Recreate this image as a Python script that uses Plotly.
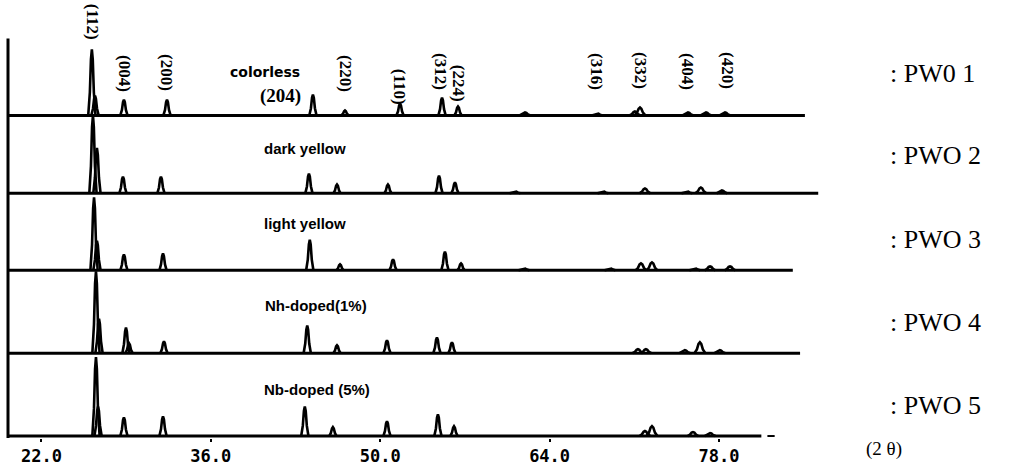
import plotly.graph_objects as go

# ---- data -------------------------------------------------------------
tick_vals = [22, 36, 50, 64, 78]
tick_text = ["22.0", "36.0", "50.0", "64.0", "78.0"]

sample_names = [": PW0 1", ": PWO 2", ": PWO 3", ": PWO 4", ": PWO 5"]
sample_notes = ["colorless", "dark yellow", "light yellow", "Nh-doped(1%)", "Nb-doped (5%)"]

# peak positions (2-theta, deg) and relative intensities for each crystal
pwo1_pos = [26.17, 26.43, 28.82, 32.38, 44.44, 47.09, 51.64, 55.11, 56.43, 61.97, 67.92, 71.05, 71.47, 75.44, 76.93, 78.50]
pwo1_int = [67, 20, 16, 16, 21, 5, 12, 18, 9, 3, 2, 4, 8, 3, 3, 3]

pwo2_pos = [26.26, 26.59, 28.74, 31.88, 44.11, 46.43, 50.64, 54.86, 56.18, 61.14, 68.41, 71.88, 75.35, 76.50, 78.24]
pwo2_int = [79, 46, 17, 17, 20, 9, 9, 18, 11, 2, 2, 5, 2, 6, 3]

pwo3_pos = [26.35, 26.59, 28.82, 32.05, 44.18, 46.68, 51.06, 55.35, 56.68, 61.88, 68.99, 71.55, 72.46, 76.00, 77.26, 78.91]
pwo3_int = [74, 30, 16, 17, 31, 6, 11, 19, 7, 2, 2, 7, 8, 2, 4, 4]

pwo4_pos = [26.51, 26.76, 28.99, 29.24, 32.13, 43.97, 46.43, 50.56, 54.69, 55.93, 71.30, 71.96, 75.18, 76.42, 78.07]
pwo4_int = [83, 35, 26, 10, 12, 28, 8, 13, 16, 11, 4, 4, 3, 11, 3]

pwo5_pos = [26.51, 26.68, 28.82, 32.05, 43.77, 46.09, 50.56, 54.77, 56.10, 71.88, 72.46, 75.85, 77.26]
pwo5_int = [80, 30, 19, 20, 30, 9, 15, 22, 10, 5, 10, 4, 3]

scan_end = [85.1, 86.2, 84.1, 84.7, 81.5]

hkl_labels = ["(112)", "(004)", "(200)", "(220)", "(110)", "(312)", "(224)", "(316)", "(332)", "(404)", "(420)"]
hkl_pos = [26.17, 28.82, 32.38, 47.09, 51.56, 55.02, 56.43, 67.92, 71.55, 75.44, 78.74]

# ---- layout helpers ---------------------------------------------------
W, H = 1021, 466
BOTTOM = 22
PLOT_H = H - BOTTOM
PX_PER_DEG = 12.1
PX_AT_50 = 380.2
X_MIN = 50 - PX_AT_50 / PX_PER_DEG
X_MAX = 50 + (W - PX_AT_50) / PX_PER_DEG


def deg_at(px):
    return 50 + (px - PX_AT_50) / PX_PER_DEG


def y_at(py):
    return PLOT_H - py


def paper_x(px):
    return px / W


def paper_y(py):
    return (PLOT_H - py) / PLOT_H


baseline_px = [117, 196, 274, 358, 442]
offsets = [y_at(p) for p in baseline_px]
x_start = deg_at(8)

REL_X = [-1, -0.55, -0.25, 0, 0.25, 0.55, 1]
REL_Y = [0, 0.35, 0.85, 1, 0.85, 0.35, 0]


def peak_path(positions, heights, base):
    xs, ys = [], []
    for p, h in zip(positions, heights):
        w = 0.30 if p < 60 else 0.45
        xs += [p + r * w for r in REL_X] + [None]
        ys += [base + r * h for r in REL_Y] + [None]
    return xs, ys


series = [(pwo1_pos, pwo1_int), (pwo2_pos, pwo2_int), (pwo3_pos, pwo3_int),
          (pwo4_pos, pwo4_int), (pwo5_pos, pwo5_int)]

fig = go.Figure()

for i, ((pos, inten), base, end) in enumerate(zip(series, offsets, scan_end)):
    fig.add_trace(go.Scatter(x=[x_start, end], y=[base, base], mode="lines",
                             line=dict(color="black", width=3), hoverinfo="skip",
                             showlegend=False))
    xs, ys = peak_path(pos, inten, base)
    fig.add_trace(go.Scatter(x=xs, y=ys, mode="lines",
                             line=dict(color="black", width=2.6), hoverinfo="skip",
                             showlegend=False, name=sample_names[i]))

# trailing dash after the last scan
fig.add_trace(go.Scatter(x=[82.0, 82.6], y=[offsets[4], offsets[4]], mode="lines",
                         line=dict(color="black", width=2), hoverinfo="skip",
                         showlegend=False))

# left intensity axis
fig.add_shape(type="line", x0=x_start, x1=x_start, y0=y_at(445), y1=y_at(39),
              line=dict(color="black", width=3))

annotations = []
hkl_center_px = [22, 75, 73, 75, 88, 73, 84, 72, 72, 72, 72]
for lab, p, cy in zip(hkl_labels, hkl_pos, hkl_center_px):
    annotations.append(dict(x=p, y=y_at(cy), text=f"<b>{lab}</b>", textangle=90, showarrow=False,
                            font=dict(family="Liberation Serif", size=17, color="black"),
                            xanchor="center", yanchor="middle"))

annotations.append(dict(x=deg_at(280), y=y_at(97), text="<b>(204)</b>", showarrow=False,
                        font=dict(family="Liberation Serif", size=19, color="black"),
                        xanchor="center", yanchor="middle"))

note_y_px = [73, 151, 227, 310, 395]
note_x_px = [228, 262, 262, 263, 262]
for i, (note, nx, ny) in enumerate(zip(sample_notes, note_x_px, note_y_px)):
    fam = "DejaVu Sans" if i == 0 else "Liberation Sans"
    annotations.append(dict(x=deg_at(nx), y=y_at(ny), text=f"<b>{note}</b>", showarrow=False,
                            font=dict(family=fam, size=14 if i == 0 else 15, color="black"),
                            xanchor="left", yanchor="middle"))

name_y_px = [75, 158, 243, 327, 411]
for name, ny in zip(sample_names, name_y_px):
    annotations.append(dict(x=paper_x(888), y=paper_y(ny), xref="paper", yref="paper",
                            text=name, showarrow=False,
                            font=dict(family="Liberation Serif", size=26, color="black"),
                            xanchor="left", yanchor="middle"))

annotations.append(dict(x=paper_x(884), y=paper_y(455), xref="paper", yref="paper",
                        text="(2 θ)", showarrow=False,
                        font=dict(family="Liberation Serif", size=19, color="black"),
                        xanchor="center", yanchor="middle"))

fig.update_layout(
    width=W, height=H,
    margin=dict(l=0, r=0, t=0, b=BOTTOM),
    paper_bgcolor="white", plot_bgcolor="white",
    annotations=annotations,
    xaxis=dict(range=[X_MIN, X_MAX], showgrid=False, zeroline=False, showline=False,
               tickmode="array", tickvals=tick_vals, ticktext=tick_text,
               ticks="outside", ticklen=3, tickwidth=2, tickcolor="black",
               tickfont=dict(family="DejaVu Sans Mono", size=17, color="black", weight="bold")),
    yaxis=dict(range=[0, PLOT_H], showgrid=False, zeroline=False, showline=False,
               showticklabels=False, ticks=""),
)

fig.write_html("out.html")
